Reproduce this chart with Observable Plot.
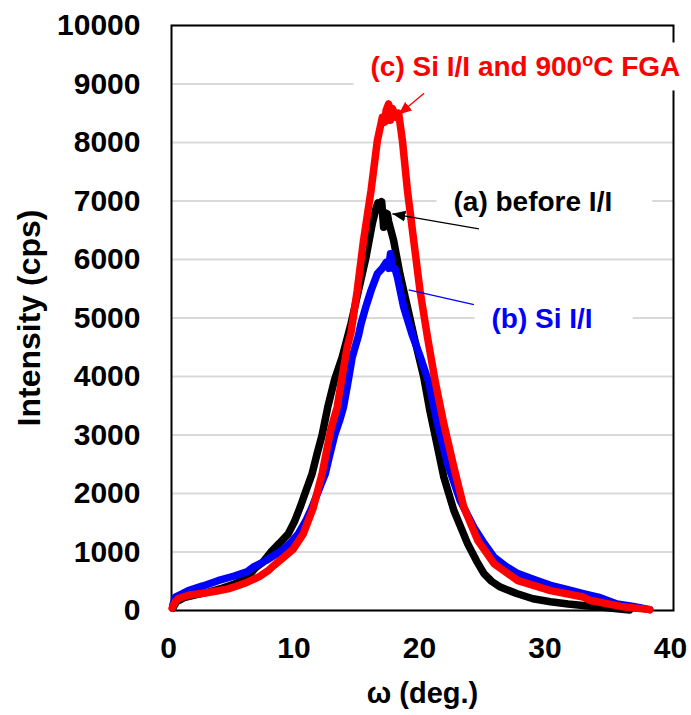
<!DOCTYPE html>
<html>
<head>
<meta charset="utf-8">
<script src="https://cdn.jsdelivr.net/npm/d3@7"></script>
<script src="https://cdn.jsdelivr.net/npm/@observablehq/plot@0.6"></script>
<style>
  html, body { margin: 0; padding: 0; background: #fff; }
  svg { display: block; }
</style>
</head>
<body>
<script>
// ---- data ----
const xTicks = [0, 10, 20, 30, 40];
const yTicks = [0, 1000, 2000, 3000, 4000, 5000, 6000, 7000, 8000, 9000, 10000];

// (a) before I/I  (black)
const omegaA = [0.1, 0.4, 1.0, 2.0, 3.0, 4.0, 5.0, 6.0, 6.7, 7.3, 8.0, 8.6, 9.3, 9.8, 10.25, 10.7, 11.2, 11.6, 12.0, 12.45, 13.0, 13.6, 14.3, 14.9, 15.5, 16.0, 16.3, 16.45, 16.6, 16.75, 16.9, 17.0, 17.2, 17.3, 17.7, 18.2, 18.8, 19.4, 20.1, 20.6, 21.2, 21.7, 22.5, 23.6, 24.3, 24.9, 25.5, 26.2, 27.5, 28.8, 30.2, 31.6, 33.0, 34.2, 35.5, 36.5];
const intensityA = [40, 150, 220, 270, 320, 380, 450, 560, 730, 830, 1020, 1150, 1310, 1520, 1765, 2040, 2335, 2680, 3000, 3475, 3950, 4330, 4900, 5470, 6040, 6615, 6880, 6970, 6850, 6990, 6550, 6800, 6780, 6650, 6325, 5755, 5185, 4615, 3990, 3400, 2790, 2280, 1710, 1140, 850, 630, 500, 400, 290, 200, 150, 110, 80, 60, 30, 10];

// (b) Si I/I  (blue)
const omegaB = [0.1, 0.3, 0.8, 1.35, 2.5, 3.7, 5.0, 6.0, 6.5, 7.5, 8.8, 9.5, 10.1, 10.7, 11.2, 11.7, 12.25, 12.6, 13.0, 13.4, 13.7, 14.1, 14.4, 14.9, 15.1, 15.5, 15.9, 16.4, 16.8, 17.1, 17.3, 17.45, 17.6, 17.8, 18.0, 18.5, 19.2, 19.8, 20.5, 21.2, 22.0, 23.0, 24.1, 24.9, 25.7, 26.6, 27.6, 29.0, 30.2, 31.5, 32.8, 34.0, 35.5, 36.8, 38.1];
const intensityB = [90, 230, 280, 340, 420, 510, 590, 660, 740, 850, 1025, 1160, 1310, 1530, 1765, 2040, 2335, 2650, 3000, 3250, 3475, 3950, 4330, 4700, 4900, 5200, 5470, 5755, 5850, 5950, 5850, 6100, 5850, 5850, 5700, 5185, 4700, 4350, 3900, 3190, 2510, 1880, 1420, 1150, 910, 760, 630, 520, 430, 360, 290, 230, 110, 70, 15];

// (c) Si I/I and 900oC FGA  (red)
const omegaC = [0.05, 0.3, 0.56, 1.35, 2.4, 3.5, 4.5, 5.1, 6.0, 7.0, 7.7, 8.0, 8.6, 9.1, 9.7, 10.5, 11.3, 12.0, 12.7, 13.2, 13.6, 14.0, 14.3, 14.8, 15.3, 15.9, 16.4, 16.8, 17.0, 17.1, 17.3, 17.45, 17.6, 17.9, 18.1, 18.4, 18.8, 19.3, 19.8, 20.4, 21.0, 21.7, 22.5, 23.3, 24.4, 25.7, 27.6, 30.2, 32.8, 33.4, 35.8, 38.1];
const intensityC = [40, 150, 205, 260, 290, 330, 370, 410, 480, 580, 680, 740, 850, 940, 1050, 1310, 1760, 2340, 3100, 3475, 4000, 4500, 4750, 5470, 6325, 7180, 8030, 8430, 8350, 8550, 8660, 8380, 8580, 8430, 8500, 8030, 7180, 6325, 5470, 4670, 3930, 3190, 2450, 1760, 1200, 800, 510, 340, 230, 170, 70, 15];

// annotations
const annotText = ["(a) before I/I", "(b) Si I/I", "(c) Si I/I and 900oC FGA"];
const annotOmega = [22.47, 25.5, 15.86];
const annotIntensity = [6990, 4990, 9282];
const annotColor = ["#000000", "#0000ff", "#ff0000"];

// pointer lines
const pointerFromOmega = [24.5, 24.1, 20.13];
const pointerFromIntensity = [6525, 5230, 8841];
const pointerToOmega = [17.6, 18.9, 18.1];
const pointerToIntensity = [6780, 5480, 8480];
const pointerColor = ["#000000", "#0000ff", "#ff0000"];
const pointerHead = [true, false, true];

const xTitle = "ω (deg.)";
const yTitle = "Intensity (cps)";

// ---- tables ----
const toRows = (ws, is) => ws.map((w, k) => ({w, i: is[k]}));
const rowsA = toRows(omegaA, intensityA);
const rowsB = toRows(omegaB, intensityB);
const rowsC = toRows(omegaC, intensityC);
const annots = annotText.map((t, k) => ({t, w: annotOmega[k], i: annotIntensity[k], c: annotColor[k]}));
const pointers = pointerColor.map((c, k) => ({
  w1: pointerFromOmega[k], i1: pointerFromIntensity[k],
  w2: pointerToOmega[k], i2: pointerToIntensity[k], c, head: pointerHead[k]
}));

const font = "'Liberation Sans', Arial, Helvetica, sans-serif";

const chart = Plot.plot({
  width: 691,
  height: 715,
  marginLeft: 171,
  marginRight: 18,
  marginTop: 25,
  marginBottom: 105,
  style: {fontFamily: font, background: "#ffffff", color: "#000000", overflow: "visible"},
  x: {domain: [0, 40]},
  y: {domain: [0, 10000]},
  marks: [
    Plot.ruleY(yTicks, {stroke: "#d9d9d9", strokeOpacity: 1, strokeWidth: 2}),
    Plot.frame({stroke: "#000000", strokeWidth: 2}),
    Plot.axisX(xTicks, {tickSize: 0, tickPadding: 26, dx: -3, fontSize: 30, fontWeight: "bold", label: null, tickFormat: d => String(d), fill: "#000"}),
    Plot.axisY(yTicks, {tickSize: 0, tickPadding: 31, fontSize: 30, fontWeight: "bold", label: null, tickFormat: d => String(d), fill: "#000"}),
    Plot.text([xTitle], {frameAnchor: "bottom", text: d => d, dy: 83, fontSize: 29, fontWeight: "bold", textAnchor: "middle", lineAnchor: "middle", fill: "#000"}),
    Plot.text([yTitle], {frameAnchor: "left", text: d => d, dx: -142, rotate: -90, fontSize: 32, fontWeight: "bold", textAnchor: "middle", lineAnchor: "middle", fill: "#000"}),
    Plot.line(rowsA, {x: "w", y: "i", stroke: "#000000", strokeWidth: 7.5, strokeLinejoin: "round", strokeLinecap: "round"}),
    Plot.line(rowsB, {x: "w", y: "i", stroke: "#0000ff", strokeWidth: 7.5, strokeLinejoin: "round", strokeLinecap: "round"}),
    Plot.line(rowsC, {x: "w", y: "i", stroke: "#ff0000", strokeWidth: 7.5, strokeLinejoin: "round", strokeLinecap: "round"}),
    Plot.text(annots, {x: "w", y: "i", text: "t", fill: "c", textAnchor: "start", lineAnchor: "middle", fontSize: 28, fontWeight: "bold"}),
    Plot.link(pointers.filter(d => d.head), {x1: "w1", y1: "i1", x2: "w2", y2: "i2", stroke: "c", strokeWidth: 1.3, markerEnd: "arrow"}),
    Plot.link(pointers.filter(d => !d.head), {x1: "w1", y1: "i1", x2: "w2", y2: "i2", stroke: "c", strokeWidth: 1.2})
  ]
});

document.body.appendChild(chart);

const NS = "http://www.w3.org/2000/svg";
const annTexts = Array.from(chart.querySelectorAll("text")).filter(t => annotText.includes(t.textContent));
// superscript "o" in the (c) label
annTexts.forEach(t => {
  const s = t.textContent;
  const k = s.indexOf("900oC");
  if (k >= 0) {
    const before = s.slice(0, k + 3), after = s.slice(k + 4);
    while (t.firstChild) t.removeChild(t.firstChild);
    t.appendChild(document.createTextNode(before));
    const sup = document.createElementNS(NS, "tspan");
    sup.setAttribute("dy", "-10");
    sup.setAttribute("font-size", "18");
    sup.textContent = "o";
    t.appendChild(sup);
    const rest = document.createElementNS(NS, "tspan");
    rest.setAttribute("dy", "10");
    rest.setAttribute("font-size", "28");
    rest.textContent = after;
    t.appendChild(rest);
  }
});
// white text-box backgrounds behind the annotation labels
if (annTexts.length) {
  const g = annTexts[0].closest("g");
  const boxes = document.createElementNS(NS, "g");
  annTexts.forEach(t => {
    const b = t.getBBox();
    const m = t.getCTM();
    const inv = g.parentNode.getCTM ? g.parentNode.getCTM().inverse() : null;
    let x = b.x, y = b.y;
    if (m && inv) {
      const p = chart.createSVGPoint(); p.x = b.x; p.y = b.y;
      const q = p.matrixTransform(m).matrixTransform(inv);
      x = q.x; y = q.y;
    }
    const r = document.createElementNS(NS, "rect");
    r.setAttribute("x", x - 17);
    r.setAttribute("y", y - 8);
    r.setAttribute("width", b.width + 57);
    r.setAttribute("height", b.height + 16);
    r.setAttribute("fill", "#ffffff");
    boxes.appendChild(r);
  });
  g.parentNode.insertBefore(boxes, g);
}

// filled arrow heads
chart.querySelectorAll("marker").forEach(m => {
  const c = m.getAttribute("stroke");
  m.setAttribute("viewBox", "-13 -6 14 12");
  m.setAttribute("markerWidth", 14);
  m.setAttribute("markerHeight", 12);
  m.setAttribute("markerUnits", "userSpaceOnUse");
  m.setAttribute("refX", 0);
  m.setAttribute("refY", 0);
  m.setAttribute("fill", c);
  m.setAttribute("stroke", "none");
  while (m.firstChild) m.removeChild(m.firstChild);
  const p = document.createElementNS(NS, "path");
  p.setAttribute("d", "M-13,-5.5L0,0L-13,5.5Z");
  m.appendChild(p);
});
</script>
</body>
</html>
